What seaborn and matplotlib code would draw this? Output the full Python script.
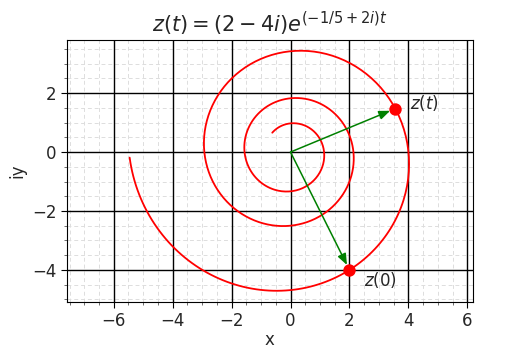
import numpy as np
import pandas as pd
import matplotlib
matplotlib.use("Agg")
import matplotlib.pyplot as plt
import seaborn as sns
from matplotlib.ticker import MultipleLocator, AutoMinorLocator

# Spiral z(t) = z0 * exp(rate * t)
z0 = 2 - 4j
rate = -1 / 5 + 2j
t_start, t_stop = -1.0, 8.0
t_mark = 0.75

t = np.linspace(t_start, t_stop, 600)
z = z0 * np.exp(rate * t)
curve = pd.DataFrame({"x": z.real, "y": z.imag, "t": t})

z_mark = z0 * np.exp(rate * t_mark)
points = pd.DataFrame({"x": [z0.real, z_mark.real],
                       "y": [z0.imag, z_mark.imag],
                       "label": [r"$z(0)$", r"$z(t)$"]})

sns.set_theme(style="white")
plt.rcParams["font.family"] = ["DejaVu Sans"]
plt.rcParams["mathtext.fontset"] = "dejavusans"

fig = plt.figure(figsize=(5.2, 3.48), dpi=100)
ax = fig.add_axes([0.128, 0.128, 0.782, 0.760])

sns.lineplot(data=curve, x="x", y="y", sort=False, color="red",
             linewidth=1.3, ax=ax, zorder=3)

for _, row in points.iterrows():
    ax.annotate("", xy=(row.x, row.y), xytext=(0, 0),
                arrowprops=dict(arrowstyle="-|>,head_length=0.55,head_width=0.22",
                                color="green", lw=1.1, shrinkA=0, shrinkB=4),
                zorder=4)

sns.scatterplot(data=points, x="x", y="y", color="red", s=80,
                edgecolor="red", linewidth=0, ax=ax, zorder=5)

ax.text(points.x[0] + 0.5, points.y[0] - 0.35, points.label[0],
        fontsize=12, ha="left", va="center")
ax.text(points.x[1] + 0.5, points.y[1] + 0.2, points.label[1],
        fontsize=12, ha="left", va="center")

ax.set_xlim(-7.6, 6.2)
ax.set_ylim(-5.1, 3.8)
ax.set_aspect("equal", adjustable="box")

ax.xaxis.set_major_locator(MultipleLocator(2))
ax.yaxis.set_major_locator(MultipleLocator(2))
ax.xaxis.set_minor_locator(AutoMinorLocator(4))
ax.yaxis.set_minor_locator(AutoMinorLocator(4))
ax.grid(which="minor", color="#dddddd", linewidth=0.7, linestyle=(0, (4, 3)))
ax.set_axisbelow(True)

# major grid drawn above the minor one so the dashes never cut through it
xmin, xmax = ax.get_xlim()
ymin, ymax = ax.get_ylim()
for xv in ax.get_xticks():
    if xmin < xv < xmax:
        ax.axvline(xv, color="black", linewidth=1.0, zorder=1)
for yv in ax.get_yticks():
    if ymin < yv < ymax:
        ax.axhline(yv, color="black", linewidth=1.0, zorder=1)

ax.tick_params(which="major", direction="out", length=4, width=0.8,
               labelsize=12, bottom=True, left=True, color="black", pad=3)
ax.tick_params(which="minor", direction="out", length=2, width=0.6,
               bottom=True, left=True, color="#555555")
for s in ax.spines.values():
    s.set_color("black")
    s.set_linewidth(0.8)

ax.set_xlabel("x", fontsize=12, labelpad=1)
ax.set_ylabel("iy", fontsize=12, labelpad=4)
ax.set_title(r"$z(t) = (2-4i)e^{(-1/5+2i)t}$", fontsize=15)

fig.savefig("out.png", dpi=100)
